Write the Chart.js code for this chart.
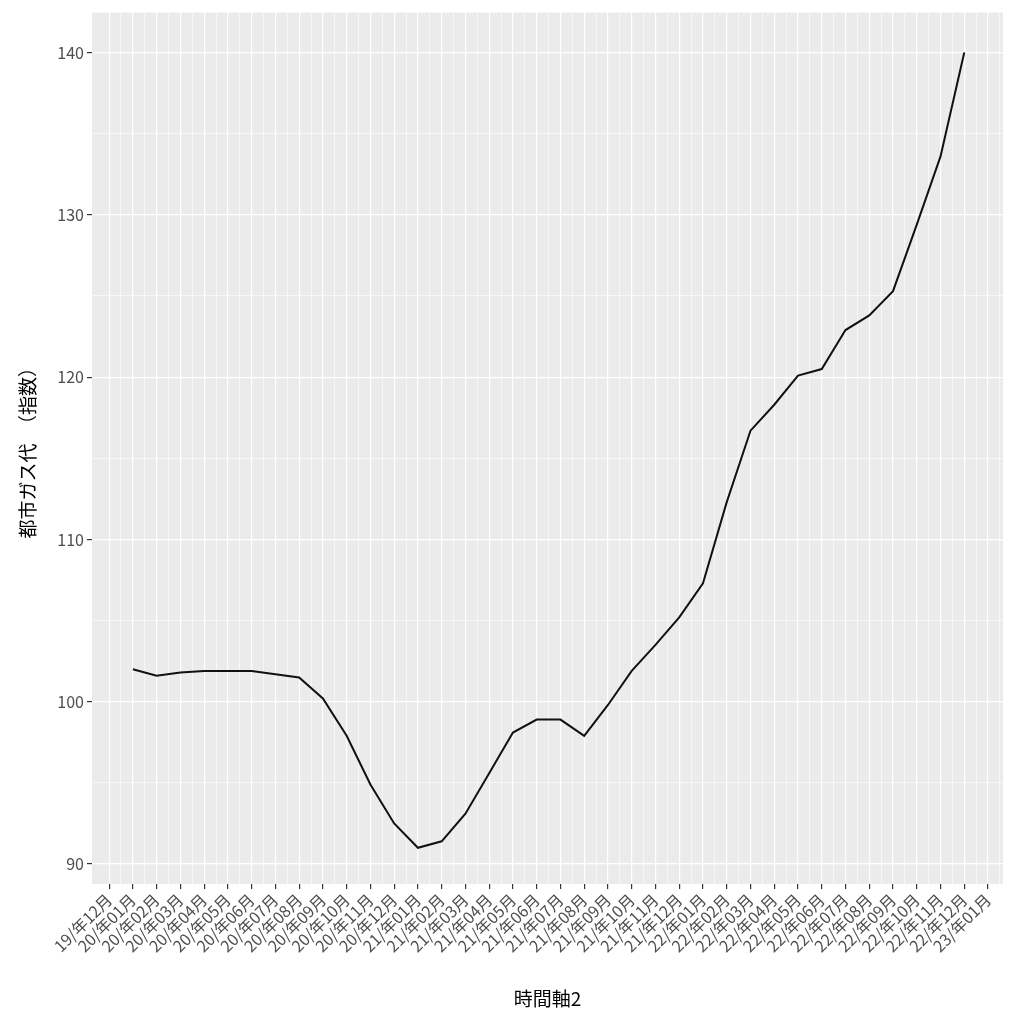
<!DOCTYPE html>
<html><head><meta charset="utf-8">
<script src="https://cdn.jsdelivr.net/npm/chart.js@4"></script>
<style>html,body{margin:0;padding:0;background:#fff}#w{width:1017px;height:1024px}</style>
</head><body><div id="w"><canvas id="c"></canvas></div>
<script>
const tickLabels = ["19/年12月","20/年01月","20/年02月","20/年03月","20/年04月","20/年05月","20/年06月","20/年07月","20/年08月","20/年09月","20/年10月","20/年11月","20/年12月","21/年01月","21/年02月","21/年03月","21/年04月","21/年05月","21/年06月","21/年07月","21/年08月","21/年09月","21/年10月","21/年11月","21/年12月","22/年01月","22/年02月","22/年03月","22/年04月","22/年05月","22/年06月","22/年07月","22/年08月","22/年09月","22/年10月","22/年11月","22/年12月","23/年01月"];
const values = [102.0,101.6,101.8,101.9,101.9,101.9,101.7,101.5,100.2,97.9,94.9,92.5,91.0,91.4,93.1,95.6,98.1,98.9,98.9,97.9,99.8,101.9,103.5,105.2,107.3,112.3,116.7,118.3,120.1,120.5,122.9,123.8,125.3,129.4,133.6,140.0];
const startIndex = 1;
const pts = values.map((v,i)=>({x:i+startIndex,y:v}));
const bg = {id:'bg',beforeDraw(c){const a=c.chartArea,x=c.ctx;x.save();x.fillStyle='#EBEBEB';x.fillRect(a.left,a.top,a.right-a.left,a.bottom-a.top);x.restore();}};
const isInt = v => Math.abs(v-Math.round(v))<1e-6;
new Chart(document.getElementById('c'),{
type:'line',
data:{datasets:[{data:pts,borderColor:'#111',borderWidth:2,pointRadius:0,tension:0,fill:false}]},
plugins:[bg],
options:{responsive:true,maintainAspectRatio:false,animation:false,
layout:{padding:{top:12,right:14,left:16,bottom:0}},
plugins:{legend:{display:false},tooltip:{enabled:false}},
scales:{
x:{type:'linear',min:-0.72,max:37.63,
 afterBuildTicks(s){const t=[];for(let v=0;v<=37.5;v+=0.5)t.push({value:v});s.ticks=t;},
 afterFit(s){s.height=140;},
 border:{display:false},
 grid:{color:'#fff',lineWidth:c=>isInt(c.tick.value)?1.2:0.6,tickColor:c=>isInt(c.tick.value)?'#333':'rgba(0,0,0,0)',tickLength:5},
 ticks:{autoSkip:false,maxRotation:45,minRotation:45,color:'#4d4d4d',font:{family:'Noto Sans CJK JP',size:16},padding:1,
  callback:v=>isInt(v)?tickLabels[Math.round(v)]:''},
 title:{display:true,text:'時間軸2',color:'#000',font:{family:'Noto Sans CJK JP',size:19},padding:{top:0,bottom:14}}},
y:{type:'linear',min:88.77,max:142.46,
 afterBuildTicks(s){const t=[];for(let v=90;v<=140;v+=5)t.push({value:v});s.ticks=t;},
 afterFit(s){s.width=76;},
 border:{display:false},
 grid:{color:'#fff',lineWidth:c=>c.tick.value%10===0?1.2:0.6,tickColor:c=>c.tick.value%10===0?'#333':'rgba(0,0,0,0)',tickLength:5},
 ticks:{color:'#4d4d4d',font:{family:'Noto Sans CJK JP',size:16},padding:3,callback:v=>v%10===0?String(v):''},
 title:{display:true,text:'都市ガス代　（指数）',color:'#000',font:{family:'Noto Sans CJK JP',size:19},padding:{top:0,bottom:4}}}
}}});
</script></body></html>
